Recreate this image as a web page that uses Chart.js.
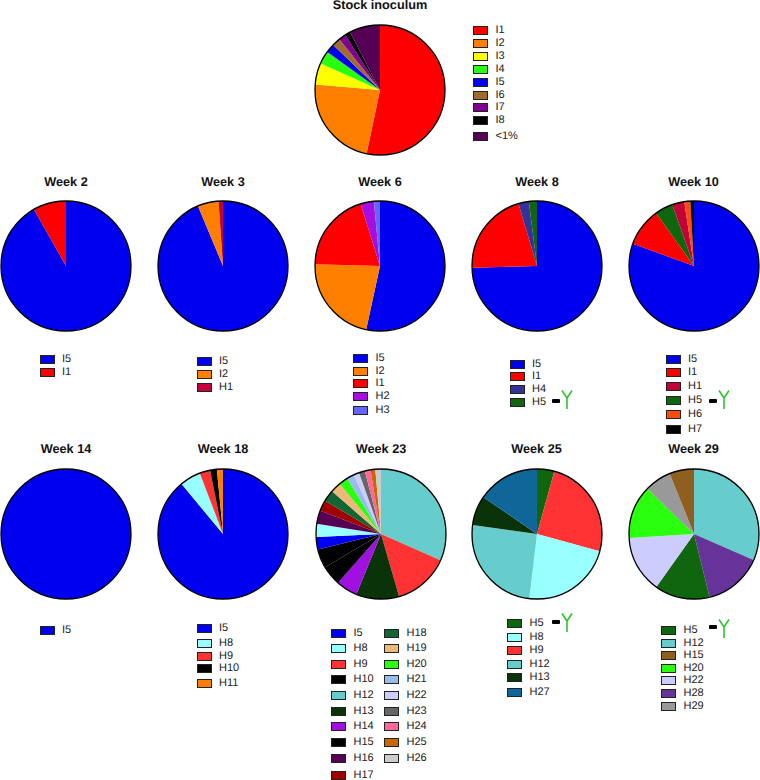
<!DOCTYPE html>
<html lang="en">
<head>
  <meta charset="UTF-8">
  <title>Pie charts by week</title>
  <script src="https://cdn.jsdelivr.net/npm/chart.js@4"></script>
  <style>
    html, body { margin: 0; padding: 0; background: #fff; }
    #page { position: relative; width: 760px; height: 780px; overflow: hidden; font-family: "Liberation Sans", Arial, sans-serif; color: #111; text-rendering: geometricPrecision; }
    #page canvas { position: absolute; }
    .title { position: absolute; width: 140px; text-align: center; font-weight: bold; font-size: 12.7px; line-height: 14px; }
    .swatch { position: absolute; width: 15px; height: 9px; box-sizing: border-box; border: 1px solid #222; }
    .name { position: absolute; font-size: 11px; line-height: 13px; color: #222; }
    .dash { position: absolute; width: 8px; height: 4px; border-radius: 1px; background: #000; }
    svg.ab { position: absolute; }
  </style>
</head>
<body>
<div id="page"></div>

<script>
  // slice order, clockwise from 12 o'clock
  const stockLabels = ['I1', 'I2', 'I3', 'I4', 'I5', 'I6', 'I7', 'I8', '<1%'];
  const stockValues = [53.2, 23, 5.3, 3.3, 2.2, 2.1, 1.8, 1.3, 7.6];

  const week2Labels = ['I5', 'I1'];
  const week2Values = [91.8, 8.2];

  const week3Labels = ['I5', 'I2', 'H1'];
  const week3Values = [93.7, 5.2, 1.1];

  const week6Labels = ['I5', 'I2', 'I1', 'H2', 'H3'];
  const week6Values = [53.4, 22, 19.8, 3.3, 1.5];

  const week8Labels = ['I5', 'I1', 'H4', 'H5'];
  const week8Values = [74.6, 20.8, 2.6, 2];

  const week10Labels = ['I5', 'I1', 'H5', 'H1', 'H6', 'H7'];
  const week10Values = [80.5, 9.5, 4.5, 3, 1.5, 0.9];
  const week10Legend = ['I5', 'I1', 'H1', 'H5', 'H6', 'H7'];

  const week14Labels = ['I5'];
  const week14Values = [100];

  const week18Labels = ['I5', 'H8', 'H9', 'H10', 'H11'];
  const week18Values = [89, 5.2, 2.6, 1.7, 1.5];

  const week23Labels = ['H12', 'H9', 'H13', 'H14', 'H15', 'H10', 'I5', 'H8', 'H16', 'H17', 'H18', 'H19', 'H20', 'H21', 'H22', 'H23', 'H24', 'H25', 'H26'];
  const week23Values = [31.7, 13.9, 10.7, 5.3, 5, 4.7, 3.1, 3.3, 3.3, 2.7, 2.9, 2.6, 2.3, 1.8, 1.4, 1.5, 1.4, 1.2, 1.4];
  const week23LegendA = ['I5', 'H8', 'H9', 'H10', 'H12', 'H13', 'H14', 'H15', 'H16', 'H17'];
  const week23LegendB = ['H18', 'H19', 'H20', 'H21', 'H22', 'H23', 'H24', 'H25', 'H26'];

  const week25Labels = ['H5', 'H9', 'H8', 'H12', 'H13', 'H27'];
  const week25Values = [4.3, 25, 22.6, 25.3, 7.4, 15.4];
  const week25Legend = ['H5', 'H8', 'H9', 'H12', 'H13', 'H27'];

  const week29Labels = ['H12', 'H28', 'H5', 'H22', 'H20', 'H29', 'H15'];
  const week29Values = [31.6, 14.6, 13.7, 14.2, 13.2, 6.7, 6.1];
  const week29Legend = ['H5', 'H12', 'H15', 'H20', 'H22', 'H28', 'H29'];

  const colors = {
    'I1': '#ff0000', 'I2': '#ff8000', 'I3': '#ffff00', 'I4': '#2bff10', 'I5': '#0000f0',
    'I6': '#a06a30', 'I7': '#800090', 'I8': '#000000', '<1%': '#550055',
    'H1': '#c40038', 'H2': '#a50ee0', 'H3': '#6666ff', 'H4': '#333399', 'H5': '#0f660f',
    'H6': '#ff4a10', 'H7': '#000000', 'H8': '#99ffff', 'H9': '#ff3333', 'H10': '#000000',
    'H11': '#ff8000', 'H12': '#66cccc', 'H13': '#0a330a', 'H14': '#a010e0', 'H15': '#000000',
    'H16': '#550055', 'H17': '#a00000', 'H18': '#116633', 'H19': '#eeb87a', 'H20': '#2bff10',
    'H21': '#99bbee', 'H22': '#ccccff', 'H23': '#666666', 'H24': '#ff6699', 'H25': '#cc6600',
    'H26': '#cccccc', 'H27': '#0f6699', 'H28': '#663399', 'H29': '#999999'
  };
  // H15 is black in week 23 but brown in week 29
  const week29Colors = { ...colors, 'H15': '#8f5f20' };

  // layout: pie centre, title y, legend columns and row centres, antibody mark
  const panels = [
    { title: 'Stock inoculum', cx: 380, cy: 89.5, titleY: 5, labels: stockLabels, values: stockValues,
      legends: [{ names: stockLabels, sx: 473, tx: 495.5, ys: [30, 43, 56, 69, 82, 95, 107, 120, 136] }] },
    { title: 'Week 2', cx: 66, cy: 266, titleY: 181.5, labels: week2Labels, values: week2Values,
      legends: [{ names: week2Labels, sx: 40, tx: 62, ys: [359, 372] }] },
    { title: 'Week 3', cx: 223, cy: 266, titleY: 181.5, labels: week3Labels, values: week3Values,
      legends: [{ names: week3Labels, sx: 197, tx: 219, ys: [361, 374, 387] }] },
    { title: 'Week 6', cx: 380, cy: 266, titleY: 181.5, labels: week6Labels, values: week6Values,
      legends: [{ names: week6Labels, sx: 353, tx: 375.5, ys: [358, 371, 383, 396, 410] }] },
    { title: 'Week 8', cx: 537, cy: 266, titleY: 181.5, labels: week8Labels, values: week8Values,
      legends: [{ names: week8Labels, sx: 510, tx: 532, ys: [364, 376, 389, 402] }],
      antibody: { dashX: 552, dashY: 401, x: 561, y: 390 } },
    { title: 'Week 10', cx: 693.5, cy: 266, titleY: 181.5, labels: week10Labels, values: week10Values,
      legends: [{ names: week10Legend, sx: 666, tx: 688, ys: [359, 372, 386, 400, 414, 429] }],
      antibody: { dashX: 709, dashY: 401, x: 718, y: 390 } },
    { title: 'Week 14', cx: 66, cy: 533.5, titleY: 449, labels: week14Labels, values: week14Values,
      legends: [{ names: week14Labels, sx: 40, tx: 62, ys: [630] }] },
    { title: 'Week 18', cx: 223, cy: 533.5, titleY: 449, labels: week18Labels, values: week18Values,
      legends: [{ names: week18Labels, sx: 197, tx: 219, ys: [628, 643, 656, 668, 683] }] },
    { title: 'Week 23', cx: 381, cy: 533.5, titleY: 449, labels: week23Labels, values: week23Values,
      legends: [
        { names: week23LegendA, sx: 331, tx: 353.5, ys: [633, 648, 664, 679, 695, 711, 726, 742, 758, 775] },
        { names: week23LegendB, sx: 384, tx: 406.5, ys: [633, 648, 664, 679, 695, 711, 726, 742, 758] }
      ] },
    { title: 'Week 25', cx: 536.5, cy: 533.5, titleY: 449, labels: week25Labels, values: week25Values,
      legends: [{ names: week25Legend, sx: 507, tx: 529.5, ys: [623, 637, 650, 664, 677, 692] }],
      antibody: { dashX: 552, dashY: 622, x: 561, y: 613 } },
    { title: 'Week 29', cx: 693.5, cy: 533.5, titleY: 449, labels: week29Labels, values: week29Values, palette: week29Colors,
      legends: [{ names: week29Legend, sx: 661, tx: 683.5, ys: [630, 643, 655, 668, 680, 693, 706] }],
      antibody: { dashX: 709, dashY: 627, x: 718, y: 619 } }
  ];

  const page = document.getElementById('page');

  // the black ring round each pie
  const outerRing = {
    id: 'outerRing',
    afterDatasetsDraw(chart) {
      const arc = chart.getDatasetMeta(0).data[0];
      const ctx = chart.ctx;
      ctx.save();
      ctx.beginPath();
      ctx.arc(arc.x, arc.y, arc.outerRadius, 0, Math.PI * 2);
      ctx.lineWidth = 1.3;
      ctx.strokeStyle = '#000';
      ctx.stroke();
      ctx.restore();
    }
  };

  function addBox(cls, left, top) {
    const el = document.createElement('div');
    el.className = cls;
    el.style.left = left + 'px';
    el.style.top = top + 'px';
    page.appendChild(el);
    return el;
  }

  function addAntibody(ab) {
    addBox('dash', ab.dashX, ab.dashY - 2);
    page.insertAdjacentHTML('beforeend',
      `<svg class="ab" style="left:${ab.x}px;top:${ab.y}px" width="12" height="19">
         <path d="M1 0.5 L6 8 L11 0.5 M6 8 L6 19" fill="none" stroke="#2fc42f" stroke-width="1.6"/>
       </svg>`);
  }

  panels.forEach(p => {
    const palette = p.palette || colors;
    const canvas = document.createElement('canvas');
    canvas.width = 140;
    canvas.height = 140;
    canvas.style.left = (p.cx - 70) + 'px';
    canvas.style.top = (p.cy - 70) + 'px';
    page.appendChild(canvas);

    new Chart(canvas.getContext('2d'), {
      type: 'pie',
      data: {
        labels: p.labels,
        datasets: [{
          data: p.values,
          backgroundColor: p.labels.map(name => palette[name]),
          borderWidth: 0
        }]
      },
      options: {
        responsive: false,
        animation: false,
        layout: { padding: 5 },
        plugins: { legend: { display: false }, tooltip: { enabled: false } }
      },
      plugins: [outerRing]
    });

    addBox('title', p.cx - 70, p.titleY - 7).textContent = p.title;

    p.legends.forEach(col => {
      col.names.forEach((name, i) => {
        addBox('swatch', col.sx, col.ys[i] - 4.5).style.background = palette[name];
        addBox('name', col.tx, col.ys[i] - 6).textContent = name;
      });
    });

    if (p.antibody) addAntibody(p.antibody);
  });
</script>
</body>
</html>
